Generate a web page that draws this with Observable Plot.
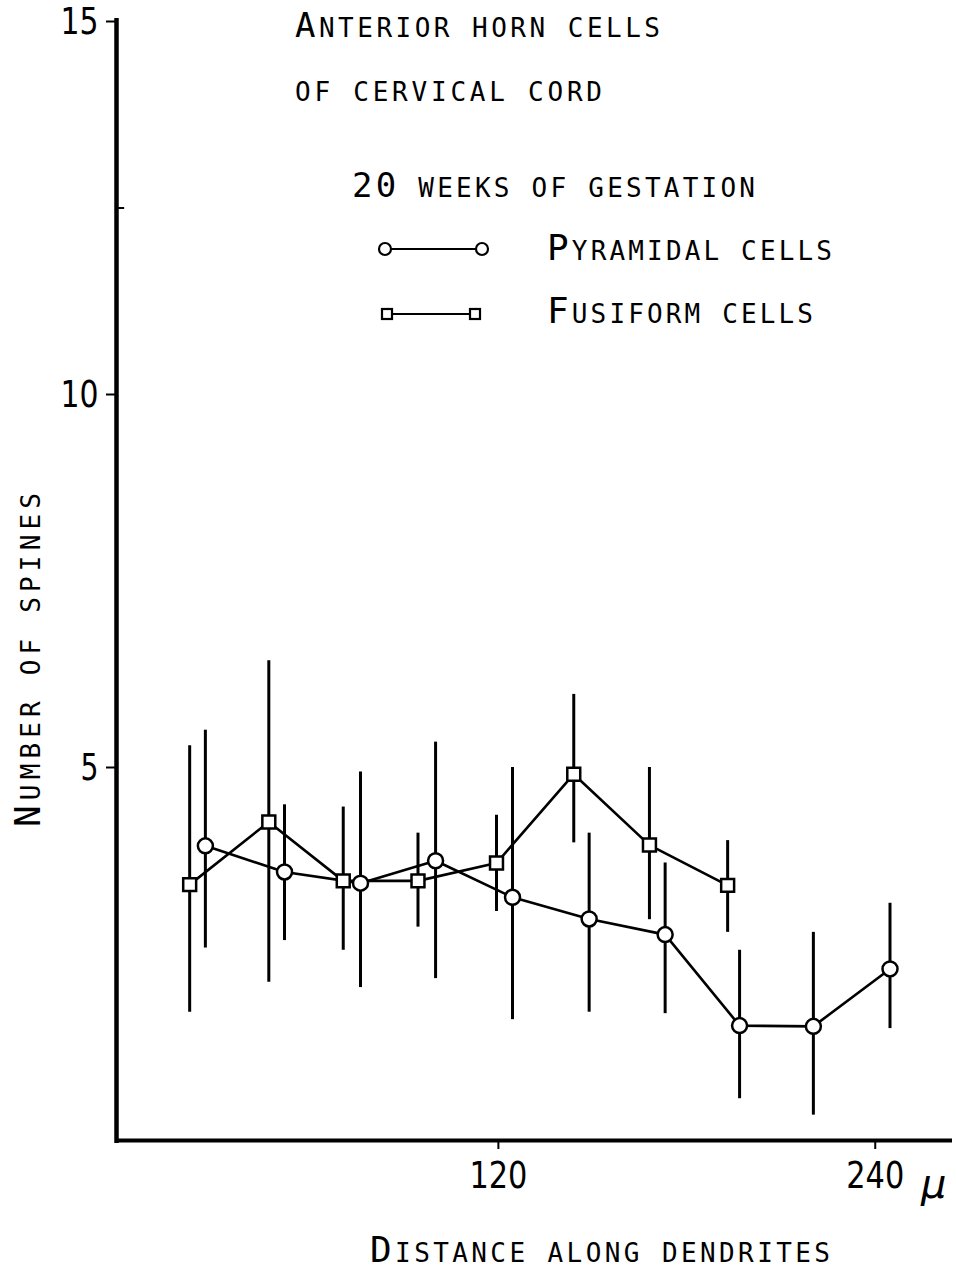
<!DOCTYPE html>
<html>
<head>
<meta charset="utf-8">
<script src="https://cdn.jsdelivr.net/npm/d3@7"></script>
<script src="https://cdn.jsdelivr.net/npm/@observablehq/plot@0.6"></script>
<style>
  html, body { margin: 0; padding: 0; background: #fff; }
</style>
</head>
<body>
<div id="chart"></div>
<script>
// ---- Data ----
const pyramidalX  = [26.7, 51.9, 76.1, 100.0, 124.5, 148.9, 173.1, 196.8, 220.3, 244.7];
const pyramidalY  = [3.95, 3.60, 3.45, 3.75, 3.26, 2.97, 2.76, 1.54, 1.53, 2.30];
const pyramidalLo = [2.58, 2.68, 2.05, 2.17, 1.62, 1.72, 1.70, 0.56, 0.34, 1.50];
const pyramidalHi = [5.50, 4.50, 4.94, 5.34, 5.00, 4.12, 3.72, 2.55, 2.79, 3.18];

const fusiformX  = [21.7, 46.9, 70.6, 94.4, 119.4, 144.0, 168.1, 193.0];
const fusiformY  = [3.43, 4.27, 3.48, 3.48, 3.72, 4.91, 3.96, 3.42];
const fusiformLo = [1.72, 2.12, 2.55, 2.86, 3.07, 3.99, 2.96, 2.79];
const fusiformHi = [5.29, 6.43, 4.47, 4.12, 4.36, 5.98, 5.00, 4.02];

const yTicks = [5, 10, 15];
const yMinorTicks = [12.5];
const xTicks = [120, 240];
const xUnit = "µ";

const titleLines = ["Anterior horn cells", "of cervical cord"];
const legendTitle = "20 weeks of gestation";
const seriesNames = ["Pyramidal cells", "Fusiform cells"];
const xLabel = "Distance along dendrites";
const yLabel = "Number of spines";

// ---- Build tables ----
const pyr = pyramidalX.map((x, i) => ({x, y: pyramidalY[i], lo: pyramidalLo[i], hi: pyramidalHi[i]}));
const fus = fusiformX.map((x, i) => ({x, y: fusiformY[i], lo: fusiformLo[i], hi: fusiformHi[i]}));

const xDomain = [-1.6, 264.6];
const numFont = "'Liberation Sans Narrow', 'DejaVu Sans Condensed', 'DejaVu Sans', sans-serif";
const monoFont = "'DejaVu Sans Mono', 'Liberation Mono', monospace";

const plot = Plot.plot({
  width: 956,
  height: 1268,
  marginLeft: 116,
  marginRight: 4,
  marginTop: 21,
  marginBottom: 128,
  style: {background: "white", color: "black", fontFamily: numFont, overflow: "visible"},
  x: {domain: xDomain},
  y: {domain: [0, 15]},
  marks: [
    Plot.axisY({ticks: yTicks, tickSize: 10, tickPadding: 8, fontSize: 38, strokeWidth: 2, label: null}),
    Plot.axisX({ticks: xTicks, tickSize: 9, tickPadding: 12, fontSize: 38, strokeWidth: 2, label: null}),
    Plot.ruleY(yMinorTicks, {x1: xDomain[0], x2: xDomain[0] + 2.6, strokeWidth: 2}),
    Plot.ruleX([xDomain[0]], {strokeWidth: 4.5, insetTop: -3, insetBottom: -3}),
    Plot.ruleY([0], {strokeWidth: 4}),
    // error bars
    Plot.ruleX(fus, {x: "x", y1: "lo", y2: "hi", strokeWidth: 3}),
    Plot.ruleX(pyr, {x: "x", y1: "lo", y2: "hi", strokeWidth: 3}),
    // connecting lines
    Plot.line(fus, {x: "x", y: "y", strokeWidth: 2.6}),
    Plot.line(pyr, {x: "x", y: "y", strokeWidth: 2.6}),
    // markers
    Plot.dot(fus, {x: "x", y: "y", symbol: "square", r: 7.3, fill: "white", stroke: "black", strokeWidth: 2.5}),
    Plot.dot(pyr, {x: "x", y: "y", symbol: "circle", r: 7.5, fill: "white", stroke: "black", strokeWidth: 2.5})
  ]
});

document.getElementById("chart").appendChild(plot);

const svg = d3.select(plot);

// narrow the tick numerals like the hand-lettered originals
svg.selectAll("g[aria-label='y-axis tick label'] text, g[aria-label='x-axis tick label'] text")
  .each(function () {
    const n = this.textContent.length;
    d3.select(this).attr("textLength", n * 18 + (n - 1) * 2).attr("lengthAdjust", "spacingAndGlyphs");
  });

// ---- Small-caps annotation text ----
function smallCaps(str, {x, y, length, big = 36, small = 26, rotate = false}) {
  const t = svg.append("text")
    .attr("x", x).attr("y", y)
    .attr("text-anchor", "start")
    .attr("font-family", monoFont)
    .attr("fill", "black");
  if (length) t.attr("textLength", length).attr("lengthAdjust", "spacing");
  if (rotate) t.attr("transform", `rotate(-90, ${x}, ${y})`);
  const runs = [];
  for (const ch of str) {
    const isBig = /[A-Z0-9]/.test(ch);
    const size = isBig ? big : small;
    if (runs.length && runs[runs.length - 1].size === size) runs[runs.length - 1].s += ch.toUpperCase();
    else runs.push({size, s: ch.toUpperCase()});
  }
  for (const r of runs) t.append("tspan").attr("font-size", r.size).text(r.s);
  return t;
}

smallCaps(titleLines[0], {x: 295, y: 37, length: 365, big: 34});
smallCaps(titleLines[1], {x: 295, y: 101, length: 307});
smallCaps(legendTitle, {x: 352, y: 197, length: 403, big: 34});
smallCaps(seriesNames[0], {x: 547, y: 260, length: 285});
smallCaps(seriesNames[1], {x: 547, y: 323, length: 266});
smallCaps(xLabel, {x: 370, y: 1262, length: 460});
smallCaps(yLabel, {x: 40, y: 827, length: 334, rotate: true});

// unit after the 240 tick label
svg.append("text")
  .attr("x", 921).attr("y", 1198)
  .attr("text-anchor", "start")
  .attr("font-family", "'DejaVu Sans', sans-serif")
  .attr("font-size", 40)
  .attr("font-style", "italic")
  .attr("fill", "black")
  .text(xUnit);

// ---- Legend samples ----
const lg = svg.append("g").attr("stroke", "black").attr("fill", "white");
lg.append("line").attr("x1", 385).attr("x2", 482).attr("y1", 249).attr("y2", 249).attr("stroke-width", 2.2);
lg.append("circle").attr("cx", 385).attr("cy", 249).attr("r", 6).attr("stroke-width", 2.2);
lg.append("circle").attr("cx", 482).attr("cy", 249).attr("r", 6).attr("stroke-width", 2.2);
lg.append("line").attr("x1", 387).attr("x2", 475).attr("y1", 314).attr("y2", 314).attr("stroke-width", 2.2);
lg.append("rect").attr("x", 382).attr("y", 309).attr("width", 10).attr("height", 10).attr("stroke-width", 2.2);
lg.append("rect").attr("x", 470).attr("y", 309).attr("width", 10).attr("height", 10).attr("stroke-width", 2.2);
</script>
</body>
</html>
